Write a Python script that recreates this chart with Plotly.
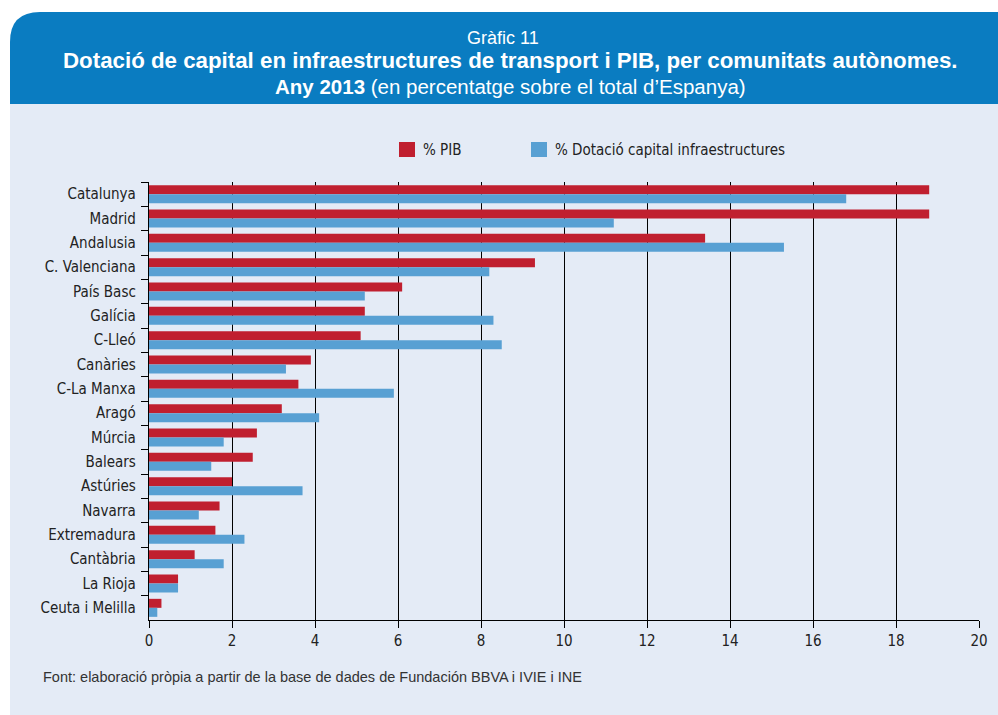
import plotly.graph_objects as go

categories = ["Catalunya", "Madrid", "Andalusia", "C. Valenciana", "País Basc", "Galícia",
              "C-Lleó", "Canàries", "C-La Manxa", "Aragó", "Múrcia", "Balears", "Astúries",
              "Navarra", "Extremadura", "Cantàbria", "La Rioja", "Ceuta i Melilla"]
pib = [18.8, 18.8, 13.4, 9.3, 6.1, 5.2, 5.1, 3.9, 3.6, 3.2, 2.6, 2.5, 2.0, 1.7, 1.6, 1.1, 0.7, 0.3]
dotacio = [16.8, 11.2, 15.3, 8.2, 5.2, 8.3, 8.5, 3.3, 5.9, 4.1, 1.8, 1.5, 3.7, 1.2, 2.3, 1.8, 0.7, 0.2]
x_ticks = [0, 2, 4, 6, 8, 10, 12, 14, 16, 18, 20]
series_names = ["% PIB", "% Dotació capital infraestructures"]

W, H = 998, 715
L, R, T, B = 149, 979, 182, 620
COND = "DejaVu Sans Condensed, Liberation Sans Narrow, Arial Narrow, sans-serif"
SANS = "Liberation Sans, Arial, sans-serif"
RED = "#c01f2f"
BLUE = "#58a0d3"
PANEL = "#e4ebf6"
HEADER = "#0a7cc1"
colors = [RED, BLUE]


def px(x):
    return (x - L) / (R - L)


def py(y):
    return (B - y) / (B - T)


fig = go.Figure()
for name, vals, col in zip(series_names, [pib, dotacio], colors):
    fig.add_trace(go.Bar(y=categories, x=vals, name=name, orientation="h",
                         marker=dict(color=col, line=dict(width=0))))

r = 30
header_path = (f"M {px(10)},{py(104)} L {px(10)},{py(12 + r)} "
               f"Q {px(10)},{py(12)} {px(10 + r)},{py(12)} "
               f"L {px(998)},{py(12)} L {px(998)},{py(104)} Z")

shapes = [
    dict(type="rect", xref="paper", yref="paper", x0=px(10), x1=px(998), y0=py(715), y1=py(104),
         fillcolor=PANEL, line=dict(width=0), layer="below"),
    dict(type="path", xref="paper", yref="paper", path=header_path,
         fillcolor=HEADER, line=dict(width=0), layer="below"),
]

annotations = [
    dict(text="Gràfic 11", x=px(503), y=py(38), xref="paper", yref="paper", showarrow=False,
         xanchor="center", yanchor="middle", font=dict(family=SANS, size=18, color="white")),
    dict(text="<b>Dotació de capital en infraestructures de transport i PIB, per comunitats autònomes.</b>",
         x=px(510), y=py(60), xref="paper", yref="paper", showarrow=False,
         xanchor="center", yanchor="middle", font=dict(family=SANS, size=22.3, color="white")),
    dict(text="<b>Any 2013</b> (en percentatge sobre el total d’Espanya)",
         x=px(510), y=py(86), xref="paper", yref="paper", showarrow=False,
         xanchor="center", yanchor="middle", font=dict(family=SANS, size=20.5, color="white")),
    dict(text="Font: elaboració pròpia a partir de la base de dades de Fundación BBVA i IVIE i INE",
         x=px(41), y=py(677), xref="paper", yref="paper", showarrow=False,
         xanchor="left", yanchor="middle", font=dict(family=SANS, size=14.5, color="#333333")),
]

# legend (manual, to match the reference's placement)
legend_x = [399, 531]
for lx, name, col in zip(legend_x, series_names, colors):
    shapes.append(dict(type="rect", xref="paper", yref="paper", x0=px(lx), x1=px(lx + 16),
                       y0=py(157), y1=py(142), fillcolor=col, line=dict(width=0)))
    annotations.append(dict(text=name, x=px(lx + 22), y=py(150), xref="paper", yref="paper",
                            showarrow=False, xanchor="left", yanchor="middle",
                            font=dict(family=COND, size=15, color="#222222")))

fig.update_layout(
    width=W, height=H,
    margin=dict(l=L, r=W - R, t=T, b=H - B, pad=0),
    paper_bgcolor="white",
    plot_bgcolor="rgba(0,0,0,0)",
    barmode="group",
    bargap=0.26,
    bargroupgap=0,
    font=dict(family=COND, size=15, color="#222222"),
    shapes=shapes,
    annotations=annotations,
    showlegend=False,
)
fig.update_xaxes(range=[0, 20], tickvals=x_ticks, showgrid=True, gridcolor="black", gridwidth=1.3,
                 showline=True, linecolor="black", linewidth=1.3, ticks="outside", ticklen=7,
                 tickcolor="black", tickwidth=1, zeroline=False, automargin=False,
                 tickfont=dict(family=COND, size=15, color="#222222"))
fig.update_yaxes(autorange="reversed", showline=True, linecolor="black", linewidth=1.3,
                 ticks="outside", tickson="boundaries", ticklen=7, tickcolor="black",
                 showgrid=False, tickfont=dict(family=COND, size=15, color="#222222"),
                 ticklabelstandoff=9, automargin=False)

fig.write_html("out.html", config={"displayModeBar": False},
               post_script="document.body.style.margin='0';document.body.style.overflow='hidden';")
